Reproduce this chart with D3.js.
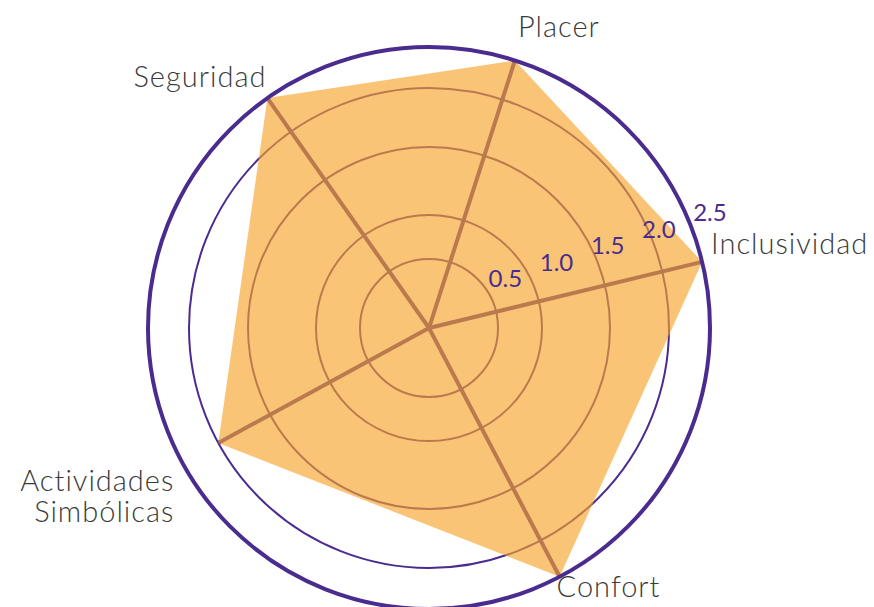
<!DOCTYPE html>
<html>
<head>
<meta charset="utf-8">
<script src="https://cdn.jsdelivr.net/npm/d3@7"></script>
<style>
  body { margin: 0; background: #fff; }
  #chart { width: 874px; height: 607px; }
</style>
</head>
<body>
<div id="chart"></div>
<script>
// Radar data
const categories = ["Placer", "Inclusividad", "Confort", "Actividades Simbólicas", "Seguridad"];
const values = [2.5, 2.5, 2.5, 2.0, 2.5];
const ticks = [0.5, 1.0, 1.5, 2.0, 2.5];
const tickLabels = ["0.5", "1.0", "1.5", "2.0", "2.5"];

// layout (degrees clockwise from north, label placement)
const axisAngles = [17.8, 76.4, 152.3, 241.4, 324.9];
const labelLayout = [
    { anchor: "middle", dx: 44, dy: -23 },
    { anchor: "start", dx: 9, dy: -8 },
    { anchor: "start", dx: -3, dy: 20 },
    { anchor: "end", dx: -8, dy: 28 },
    { anchor: "end", dx: -1, dy: -11 }
];

const width = 874;
const height = 607;
const cx = 429, cy = 328;
const purple = "#4a2c8f";

// radial scale (rings in the original are not evenly spaced)
const r = d3.scaleLinear()
    .domain([0, 0.5, 1.0, 1.5, 2.0, 2.5])
    .range([0, 69, 113, 181, 240, 281]);
// tick label placement runs evenly along the axis
const tickPos = d3.scaleLinear().domain([0.5, 2.5]).range([88, 303]);

const rad = d => d * Math.PI / 180;
const px = (a, rr) => cx + rr * Math.sin(rad(a));
const py = (a, rr) => cy - rr * Math.cos(rad(a));

const svg = d3.select("#chart")
    .append("svg")
    .attr("width", width)
    .attr("height", height);

const g = svg.append("g");

// inner rings
g.selectAll(".ring")
    .data(ticks.slice(0, 4))
    .enter()
    .append("circle")
    .attr("class", "ring")
    .attr("cx", cx)
    .attr("cy", cy)
    .attr("r", d => r(d))
    .attr("fill", "none")
    .attr("stroke", purple)
    .attr("stroke-width", 2);

// spokes out to each value
g.selectAll(".spoke")
    .data(values)
    .enter()
    .append("line")
    .attr("class", "spoke")
    .attr("x1", cx)
    .attr("y1", cy)
    .attr("x2", (d, i) => px(axisAngles[i], r(d)))
    .attr("y2", (d, i) => py(axisAngles[i], r(d)))
    .attr("stroke", purple)
    .attr("stroke-width", 4);

// area
const pts = values.map((d, i) => [px(axisAngles[i], r(d)), py(axisAngles[i], r(d))]);
g.append("path")
    .attr("d", d3.line().curve(d3.curveLinearClosed)(pts))
    .attr("fill", "#f6a42b")
    .attr("fill-opacity", 0.65)
    .attr("stroke", "none");

// outer ring
g.append("circle")
    .attr("cx", cx)
    .attr("cy", cy)
    .attr("r", r(2.5))
    .attr("fill", "none")
    .attr("stroke", purple)
    .attr("stroke-width", 4);

// tick labels along the radial axis
const tickAngle = 72.1;
const perp = 24;
g.selectAll(".tick-label")
    .data(ticks)
    .enter()
    .append("text")
    .attr("class", "tick-label")
    .attr("x", d => px(tickAngle, tickPos(d)) + perp * Math.sin(rad(tickAngle - 90)))
    .attr("y", d => py(tickAngle, tickPos(d)) - perp * Math.cos(rad(tickAngle - 90)) + 9)
    .attr("text-anchor", "middle")
    .attr("font-family", "Lato, 'DejaVu Sans', sans-serif")
    .attr("font-size", "24px")
    .attr("fill", purple)
    .text((d, i) => tickLabels[i]);

// category labels
categories.forEach(function(name, i) {
    const a = axisAngles[i];
    const lay = labelLayout[i];
    const x = px(a, r(2.5)) + lay.dx;
    const y = py(a, r(2.5)) + lay.dy;
    const words = name === "Actividades Simbólicas" ? ["Actividades", "Simbólicas"] : [name];
    words.forEach(function(w, j) {
        g.append("text")
            .attr("x", x)
            .attr("y", y + j * 31)
            .attr("text-anchor", lay.anchor)
            .attr("font-family", "Lato, 'DejaVu Sans', sans-serif")
            .attr("font-weight", 300)
            .attr("font-size", "29px")
            .attr("letter-spacing", "1px")
            .attr("fill", "#3a3a3a")
            .text(w);
    });
});
</script>
</body>
</html>
